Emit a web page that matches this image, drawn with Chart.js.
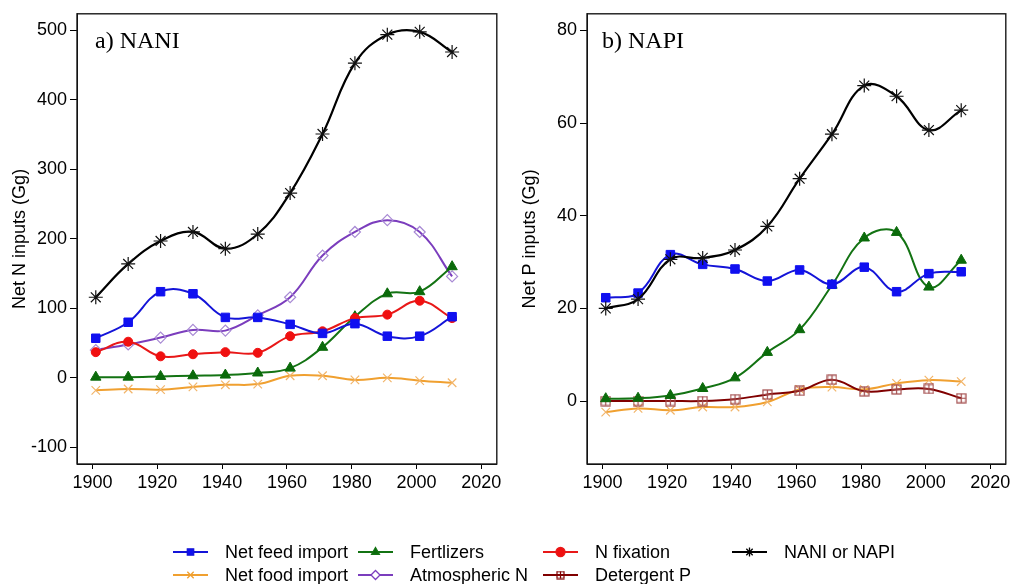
<!DOCTYPE html>
<html>
<head>
<meta charset="utf-8">
<script src="https://cdn.jsdelivr.net/npm/chart.js@4.4.1/dist/chart.umd.min.js"></script>
<style>
  html, body { margin: 0; padding: 0; background: #fff; width: 1014px; height: 584px; overflow: hidden; }
  #left { position: absolute; left: 0; top: 0; }
  #right { position: absolute; left: 505px; top: 0; }
  #legend { position: absolute; left: 0; top: 0; width: 1014px; height: 584px; pointer-events: none;
            font-family: "Liberation Sans", Arial, sans-serif; font-size: 18px; color: #000; }
  .item { position: absolute; display: flex; align-items: center; height: 22px; white-space: nowrap; }
  .item canvas { margin-right: 17px; }
</style>
</head>
<body>
<canvas id="left" width="505" height="500"></canvas>
<canvas id="right" width="509" height="500"></canvas>
<div id="legend"></div>
<script>
// Census years
const years = [1901, 1911, 1921, 1931, 1941, 1951, 1961, 1971, 1981, 1991, 2001, 2011];
const xTicks = [1900, 1920, 1940, 1960, 1980, 2000, 2020];

// Nitrogen inputs (Gg)
const nFeed  = [57, 80, 124, 121, 87, 87, 77, 64, 78, 60, 60, 88];
const nFood  = [-18, -16, -17, -13, -10, -9, 3, 3, -3, 0, -4, -7];
const nFert  = [1, 1, 2, 3, 4, 7, 14, 44, 88, 121, 124, 160];
const nAtmos = [40, 48, 58, 69, 68, 90, 116, 176, 210, 227, 210, 146];
const nFix   = [37, 52, 31, 34, 37, 36, 60, 67, 86, 91, 111, 86];
const nani   = [116, 164, 197, 210, 186, 207, 266, 351, 453, 494, 498, 469];
const nTicks = [-100, 0, 100, 200, 300, 400, 500];

// Phosphorus inputs (Gg)
const pFeed = [22.3, 23.3, 31.6, 29.5, 28.5, 25.9, 28.3, 25.2, 28.9, 23.6, 27.5, 27.9];
const pFood = [-2.4, -1.6, -2.0, -1.3, -1.3, -0.2, 2.5, 3.0, 2.5, 3.8, 4.5, 4.2];
const pFert = [0.5, 0.6, 1.2, 2.7, 5.0, 10.5, 15.4, 25.0, 35.2, 36.4, 24.6, 30.4];
const pDet  = [0, 0, 0, 0, 0.4, 1.4, 2.2, 4.6, 2.1, 2.5, 2.6, 0.6];
const napi  = [20.0, 22.0, 30.6, 30.9, 32.6, 37.7, 48.0, 57.6, 68.1, 65.8, 58.5, 62.8];
const pTicks = [0, 20, 40, 60, 80];

const SANS = '"Liberation Sans", Arial, sans-serif';
const SERIF = '"Liberation Serif", "Times New Roman", serif';

// open square with a plus inside, used for the detergent series
function boxPlus(size, color) {
  const c = document.createElement('canvas');
  c.width = size; c.height = size;
  const g = c.getContext('2d');
  g.strokeStyle = color; g.lineWidth = 1.2;
  g.strokeRect(1, 1, size - 2, size - 2);
  g.beginPath();
  g.moveTo(size / 2, 1); g.lineTo(size / 2, size - 1);
  g.moveTo(1, size / 2); g.lineTo(size - 1, size / 2);
  g.stroke();
  return c;
}

const STYLE = {
  feed:  { line: '#1414D8', pt: '#1010F0', fill: '#1010F0', style: 'rect', r: 6, bw: 1, lw: 2 },
  food:  { line: '#F0A030', pt: '#F2B56A', fill: 'rgba(0,0,0,0)', style: 'crossRot', r: 6, bw: 1.2, lw: 2 },
  fert:  { line: '#137313', pt: '#0A6A0A', fill: '#0A6A0A', style: 'triangle', r: 6, bw: 1, lw: 2 },
  atmos: { line: '#7B3DBD', pt: '#A88AD4', fill: 'rgba(255,255,255,0)', style: 'rectRot', r: 5.5, bw: 1.2, lw: 2 },
  fix:   { line: '#E81818', pt: '#F01010', fill: '#F01010', style: 'circle', r: 4.5, bw: 1, lw: 2 },
  det:   { line: '#800000', pt: '#A04848', fill: 'rgba(0,0,0,0)', style: boxPlus(11, '#A04848'), r: 5, bw: 1, lw: 2 },
  total: { line: '#000000', pt: '#111111', fill: 'rgba(0,0,0,0)', style: 'star', r: 7, bw: 1.2, lw: 2.2 }
};

function series(key, values, order) {
  const s = STYLE[key];
  return {
    data: years.map((y, i) => ({ x: y, y: values[i] })),
    borderColor: s.line,
    borderWidth: s.lw,
    tension: 0.4,
    pointStyle: s.style,
    pointRadius: s.r,
    pointBorderColor: s.pt,
    pointBackgroundColor: s.fill,
    pointBorderWidth: s.bw,
    order: order
  };
}

const frame = {
  id: 'frame',
  afterDatasetsDraw(chart, args, opts) {
    const { ctx, chartArea: a } = chart;
    ctx.save();
    ctx.strokeStyle = '#1a1a1a';
    ctx.lineWidth = 1.4;
    ctx.strokeRect(a.left, a.top, a.right - a.left, a.bottom - a.top);
    ctx.fillStyle = '#000';
    ctx.font = '24px ' + SERIF;
    ctx.textBaseline = 'alphabetic';
    ctx.textAlign = 'left';
    ctx.fillText(opts.text, a.left + opts.dx, 48);
    ctx.restore();
  }
};

function panel(id, datasets, yMin, yMax, yTicks, yTitle, axisWidth, titlePad, label, labelDx) {
  return new Chart(document.getElementById(id), {
    type: 'line',
    data: { datasets },
    plugins: [frame],
    options: {
      responsive: false,
      animation: false,
      events: [],
      layout: { padding: { top: 10, right: 7, left: 0, bottom: 0 } },
      plugins: { legend: { display: false }, tooltip: { enabled: false }, frame: { text: label, dx: labelDx } },
      scales: {
        x: {
          type: 'linear', min: 1895.2, max: 2024.8,
          afterBuildTicks: s => { s.ticks = xTicks.map(v => ({ value: v })); },
          afterFit: s => { s.height = 36; },
          grid: { drawOnChartArea: false, drawTicks: true, tickLength: 5, color: '#000', lineWidth: 1 },
          border: { display: true, color: '#000', width: 1 },
          ticks: { color: '#000', font: { family: SANS, size: 18 }, padding: 3, maxRotation: 0, autoSkip: false,
                   callback: v => String(v) }
        },
        y: {
          type: 'linear', min: yMin, max: yMax,
          afterBuildTicks: s => { s.ticks = yTicks.map(v => ({ value: v })); },
          afterFit: s => { s.width = axisWidth; },
          grid: { drawOnChartArea: false, drawTicks: true, tickLength: 7, color: '#000', lineWidth: 1 },
          border: { display: true, color: '#000', width: 1 },
          ticks: { color: '#000', font: { family: SANS, size: 18 }, padding: 3, autoSkip: false,
                   callback: v => String(v) },
          title: { display: true, text: yTitle, color: '#000', font: { family: SANS, size: 18 },
                   padding: { top: titlePad, bottom: 0 } }
        }
      }
    }
  });
}

panel('left', [
  series('total', nani, 0),
  series('feed', nFeed, 1),
  series('fix', nFix, 2),
  series('fert', nFert, 3),
  series('atmos', nAtmos, 4),
  series('food', nFood, 5)
], -124, 524, nTicks, 'Net N inputs (Gg)', 77, 9, 'a) NANI', 18);

panel('right', [
  series('total', napi, 0),
  series('feed', pFeed, 1),
  series('fert', pFert, 2),
  series('det', pDet, 3),
  series('food', pFood, 4)
], -13.6, 83.6, pTicks, 'Net P inputs (Gg)', 82, 14, 'b) NAPI', 15);

// Legend laid out in a 4 x 2 grid
const legendItems = [
  { key: 'feed',  text: 'Net feed import', x: 173, y: 541 },
  { key: 'food',  text: 'Net food import', x: 173, y: 564 },
  { key: 'fert',  text: 'Fertlizers',      x: 358, y: 541 },
  { key: 'atmos', text: 'Atmospheric N',   x: 358, y: 564 },
  { key: 'fix',   text: 'N fixation',      x: 543, y: 541 },
  { key: 'det',   text: 'Detergent P',     x: 543, y: 564 },
  { key: 'total', text: 'NANI or NAPI',    x: 732, y: 541 }
];
const legend = document.getElementById('legend');
legendItems.forEach(it => {
  const s = STYLE[it.key];
  const div = document.createElement('div');
  div.className = 'item';
  div.style.left = it.x + 'px';
  div.style.top = it.y + 'px';
  const c = document.createElement('canvas');
  c.width = 35; c.height = 22;
  const g = c.getContext('2d');
  g.strokeStyle = s.line; g.lineWidth = 2;
  g.beginPath(); g.moveTo(0, 11); g.lineTo(35, 11); g.stroke();
  g.strokeStyle = it.key === 'total' ? '#000' : s.line;
  g.fillStyle = s.fill === 'rgba(0,0,0,0)' || s.fill.startsWith('rgba(255') ? '#fff' : s.fill;
  if (it.key === 'food' || it.key === 'total') g.fillStyle = 'rgba(0,0,0,0)';
  g.lineWidth = 1.3;
  const style = it.key === 'det' ? boxPlus(9, '#800000') : s.style;
  Chart.helpers.drawPoint(g, { pointStyle: style, radius: 4.5, rotation: 0, borderWidth: 1.3 }, 17.5, 11);
  const span = document.createElement('span');
  span.textContent = it.text;
  div.appendChild(c);
  div.appendChild(span);
  legend.appendChild(div);
});
</script>
</body>
</html>
